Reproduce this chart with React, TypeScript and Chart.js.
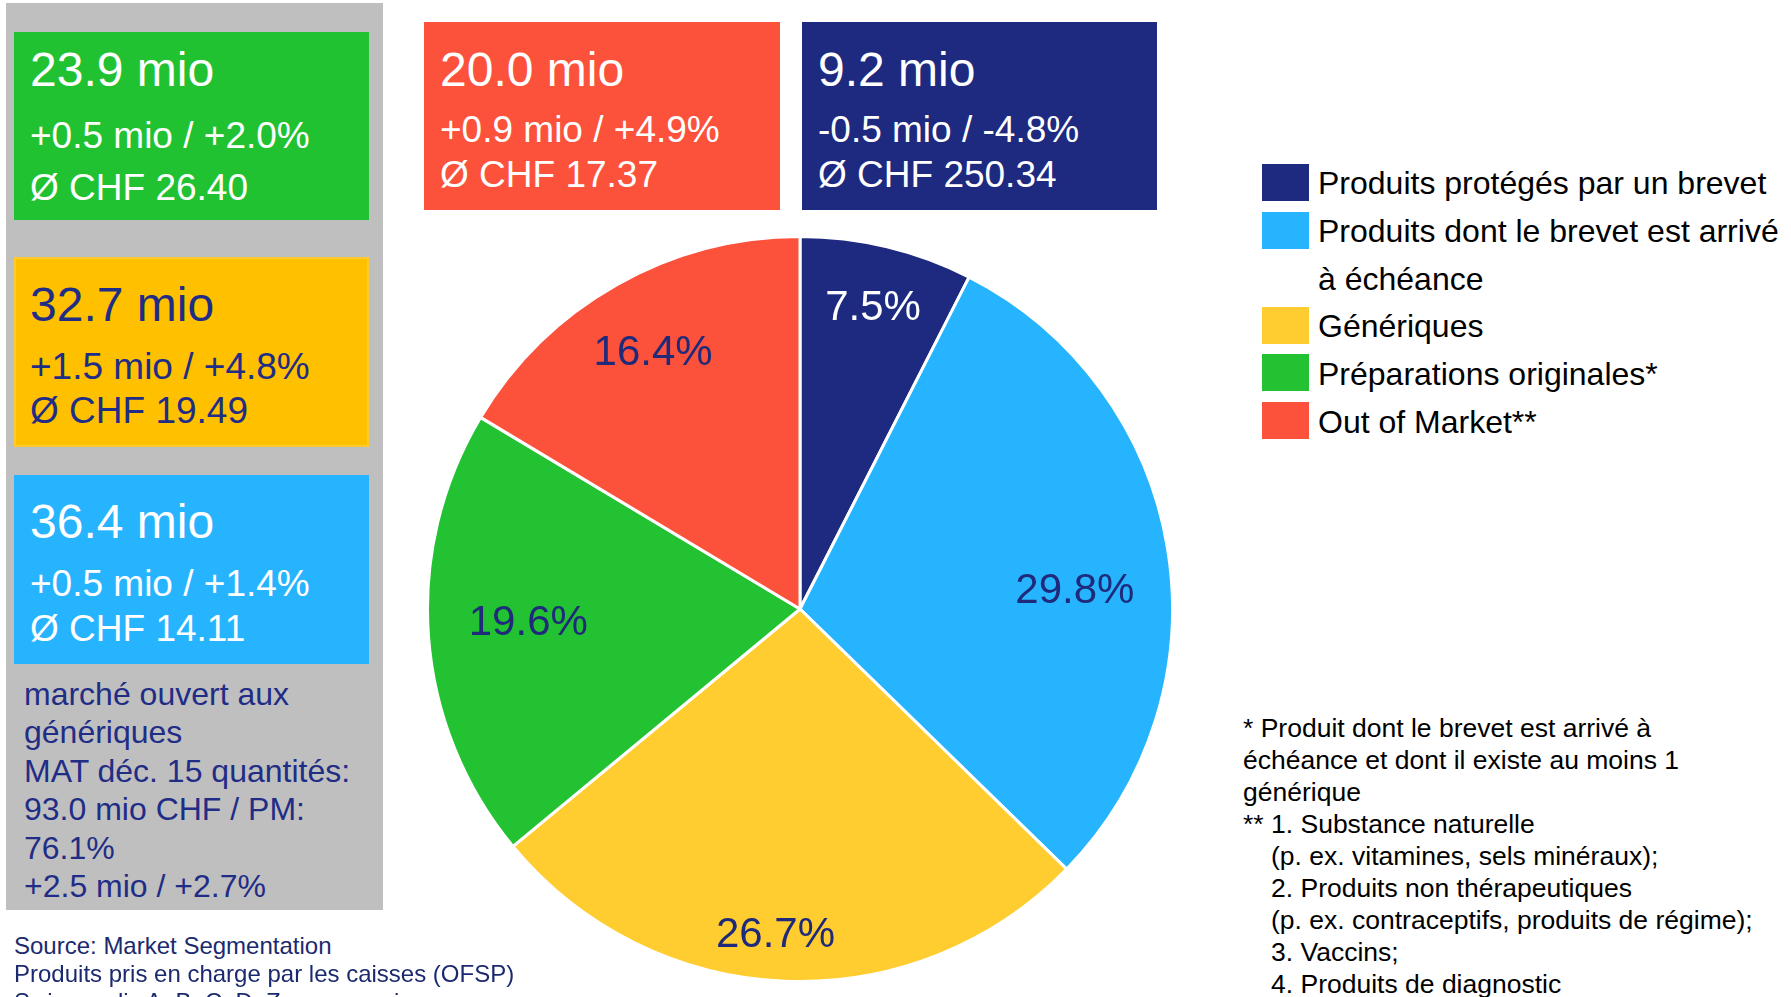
import React, { useEffect, useRef } from "react";
import { Chart, registerables } from "chart.js";

Chart.register(...registerables);

const FONT = "'Liberation Sans', Arial, Helvetica, sans-serif";

// ---- chart data ----
const segmentLabels = [
  "Produits protégés par un brevet",
  "Produits dont le brevet est arrivé à échéance",
  "Génériques",
  "Préparations originales*",
  "Out of Market**",
];
const legendLines = [
  ["Produits protégés par un brevet"],
  ["Produits dont le brevet est arrivé", "à échéance"],
  ["Génériques"],
  ["Préparations originales*"],
  ["Out of Market**"],
];
const segmentShares = [7.5, 29.8, 26.7, 19.6, 16.4];
const segmentColors = ["#1E2A80", "#27B4FF", "#FFCD30", "#22C232", "#FC513B"];
const labelColors = ["#FFFFFF", "#1F2A7A", "#1F2A7A", "#1F2A7A", "#1F2A7A"];
const labelRadius = [0.84, 0.74, 0.87, 0.73, 0.8];
const labelAngleShift = [0, 5, 2, 2, 0];

// ---- side box texts ----
const greenBox = ["23.9 mio", "+0.5 mio / +2.0%", "Ø CHF 26.40"];
const yellowBox = ["32.7 mio", "+1.5 mio / +4.8%", "Ø CHF 19.49"];
const blueBox = ["36.4 mio", "+0.5 mio / +1.4%", "Ø CHF 14.11"];
const redBox = ["20.0 mio", "+0.9 mio / +4.9%", "Ø CHF 17.37"];
const navyBox = ["9.2 mio", "-0.5 mio / -4.8%", "Ø CHF 250.34"];
const openMarketLines = [
  "marché ouvert aux",
  "génériques",
  "MAT déc. 15 quantités:",
  "93.0 mio CHF / PM:",
  "76.1%",
  "+2.5 mio / +2.7%",
];
const sourceLines = [
  "Source: Market Segmentation",
  "Produits pris en charge par les caisses (OFSP)",
  "Swissmedic A, B, C, D, Z sans vaccins",
];
const footnoteLines: [string, string][] = [
  ["* Produit dont le brevet est arrivé à", ""],
  ["échéance et dont il existe au moins 1", ""],
  ["générique", ""],
  ["**", "1. Substance naturelle"],
  ["", "(p. ex. vitamines, sels minéraux);"],
  ["", "2. Produits non thérapeutiques"],
  ["", "(p. ex. contraceptifs, produits de régime);"],
  ["", "3. Vaccins;"],
  ["", "4. Produits de diagnostic"],
];

const NAVY_TEXT = "#1F2D86";

function T(props: { x: number; y: number; size: number; color: string; children: any }) {
  const { x, y, size, color, children } = props;
  return (
    <div
      style={{
        position: "absolute",
        left: x,
        top: y - 0.8465 * size,
        fontSize: size,
        lineHeight: `${size}px`,
        height: size,
        color,
        whiteSpace: "nowrap",
        fontFamily: FONT,
      }}
    >
      {children}
    </div>
  );
}

function StatBox(props: {
  left: number;
  top: number;
  width: number;
  height: number;
  bg: string;
  border?: string;
  color: string;
  lines: string[];
  baselines: number[];
}) {
  const { left, top, width, height, bg, border, color, lines, baselines } = props;
  return (
    <>
      <div
        style={{
          position: "absolute",
          left,
          top,
          width,
          height,
          background: bg,
          boxSizing: "border-box",
          border: border ? `2px solid ${border}` : "none",
        }}
      />
      {lines.map((l, i) => (
        <T key={i} x={left + 16} y={baselines[i]} size={i === 0 ? 48 : 37} color={color}>
          {l}
        </T>
      ))}
    </>
  );
}

const pieLabelPlugin = {
  id: "pieLabels",
  afterDatasetsDraw(chart: any) {
    const ctx = chart.ctx;
    const meta = chart.getDatasetMeta(0);
    const data = chart.data.datasets[0].data as number[];
    ctx.save();
    ctx.font = `42px ${FONT}`;
    ctx.textAlign = "center";
    ctx.textBaseline = "alphabetic";
    meta.data.forEach((arc: any, i: number) => {
      const p = arc.getProps(["x", "y", "startAngle", "endAngle", "outerRadius"], true);
      const mid = (p.startAngle + p.endAngle) / 2 + (labelAngleShift[i] * Math.PI) / 180;
      const r = p.outerRadius * labelRadius[i];
      const cx = p.x + Math.cos(mid) * r;
      const cy = p.y + Math.sin(mid) * r;
      ctx.fillStyle = labelColors[i];
      ctx.fillText(`${data[i].toFixed(1)}%`, cx, cy + 0.358 * 42);
    });
    ctx.restore();
  },
};

function PieChart() {
  const ref = useRef<HTMLCanvasElement | null>(null);
  useEffect(() => {
    if (!ref.current) return;
    const chart = new Chart(ref.current, {
      type: "pie",
      data: {
        labels: segmentLabels,
        datasets: [
          {
            data: segmentShares,
            backgroundColor: segmentColors,
            borderColor: "#FFFFFF",
            borderWidth: 3,
          },
        ],
      },
      options: {
        responsive: false,
        animation: false,
        devicePixelRatio: 1,
        layout: { padding: 0 },
        plugins: {
          legend: { display: false },
          tooltip: { enabled: false },
        },
      },
      plugins: [pieLabelPlugin],
    } as any);
    return () => chart.destroy();
  }, []);
  return (
    <canvas
      ref={ref}
      width={748}
      height={748}
      style={{ position: "absolute", left: 426, top: 235, width: 748, height: 748 }}
    />
  );
}

export default function App() {
  let lineIdx = 0;
  const legendItems = legendLines.map((lines, i) => {
    const start = lineIdx;
    lineIdx += lines.length;
    return (
      <React.Fragment key={i}>
        <div
          style={{
            position: "absolute",
            left: 1262,
            top: 164 + 47.6 * start,
            width: 47,
            height: 37,
            background: segmentColors[i],
          }}
        />
        {lines.map((t, j) => (
          <T key={j} x={1318} y={194 + 47.8 * (start + j)} size={32} color="#000000">
            {t}
          </T>
        ))}
      </React.Fragment>
    );
  });

  return (
    <div
      style={{
        position: "absolute",
        left: 0,
        top: 0,
        width: 1791,
        height: 997,
        overflow: "hidden",
        background: "#FFFFFF",
        fontFamily: FONT,
      }}
    >
      {/* gray side panel */}
      <div style={{ position: "absolute", left: 6, top: 3, width: 377, height: 907, background: "#BFBFBF" }} />
      <StatBox left={14} top={32} width={355} height={188} bg="#21C232" color="#FFFFFF" lines={greenBox} baselines={[87, 148, 200]} />
      <StatBox left={14} top={257} width={355} height={190} bg="#FFC000" border="#FFCB2E" color={NAVY_TEXT} lines={yellowBox} baselines={[322, 379, 423]} />
      <StatBox left={14} top={475} width={355} height={189} bg="#27B4FF" color="#FFFFFF" lines={blueBox} baselines={[539, 596, 641]} />
      {openMarketLines.map((t, i) => (
        <T key={i} x={24} y={[705, 743, 782, 820, 859, 897][i]} size={32} color={NAVY_TEXT}>
          {t}
        </T>
      ))}

      {/* top boxes */}
      <StatBox left={424} top={22} width={356} height={188} bg="#FC513B" color="#FFFFFF" lines={redBox} baselines={[87, 142, 187]} />
      <StatBox left={802} top={22} width={355} height={188} bg="#1E2A80" color="#FFFFFF" lines={navyBox} baselines={[87, 142, 187]} />

      <PieChart />

      {legendItems}

      {footnoteLines.map(([a, b], i) => (
        <React.Fragment key={i}>
          {a && (
            <T x={1243} y={737 + 32 * i} size={26.5} color="#000000">
              {a}
            </T>
          )}
          {b && (
            <T x={1271} y={737 + 32 * i} size={26.5} color="#000000">
              {b}
            </T>
          )}
        </React.Fragment>
      ))}

      {sourceLines.map((t, i) => (
        <T key={i} x={14} y={954 + 28 * i} size={24} color="#1B2A6E">
          {t}
        </T>
      ))}
    </div>
  );
}
